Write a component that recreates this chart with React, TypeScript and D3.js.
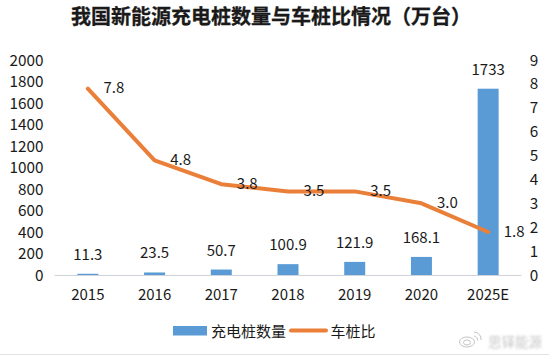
import React from "react";
import * as d3 from "d3";

const categories = ["2015", "2016", "2017", "2018", "2019", "2020", "2025E"];
const piles = [11.3, 23.5, 50.7, 100.9, 121.9, 168.1, 1733];
const ratio = [7.8, 4.8, 3.8, 3.5, 3.5, 3.0, 1.8];
const ratioLabels = ["7.8", "4.8", "3.8", "3.5", "3.5", "3.0", "1.8"];
const leftTicks = [0, 200, 400, 600, 800, 1000, 1200, 1400, 1600, 1800, 2000];
const rightTicks = [0, 1, 2, 3, 4, 5, 6, 7, 8, 9];

const FONT = "'Noto Sans CJK SC', 'Noto Sans', sans-serif";
const BLUE = "#5b9bd5";
const ORANGE = "#e97f38";

export default function App() {
  const x = d3.scaleBand<string>().domain(categories).range([54.5, 521.5]).padding(0);
  const yL = d3.scaleLinear().domain([0, 2000]).range([275, 60]);
  const yR = d3.scaleLinear().domain([0, 9]).range([275, 60]);
  const cx = (c: string) => (x(c) as number) + x.bandwidth() / 2;
  const line = d3
    .line<number>()
    .x((_, i) => cx(categories[i]))
    .y((d) => yR(d));
  const barW = 21;
  return (
    <svg
      width={549}
      height={356}
      style={{ position: "fixed", left: 0, top: 0, background: "#fff" }}
      fontFamily={FONT}
      fill="#1a1a1a"
    >
      <defs>
        <filter id="wm">
          <feGaussianBlur stdDeviation="1" />
        </filter>
      </defs>
      <text x={271} y={24} textAnchor="middle" fontSize={20} fontWeight={700} stroke="#1a1a1a" strokeWidth={0.3}>
        我国新能源充电桩数量与车桩比情况（万台）
      </text>
      {leftTicks.map((t) => (
        <text key={t} x={43.5} y={yL(t) + 5.5} textAnchor="end" fontSize={15.3}>
          {t}
        </text>
      ))}
      {rightTicks.map((t) => (
        <text key={t} x={534} y={yR(t) + 5.5} textAnchor="middle" fontSize={15.3}>
          {t}
        </text>
      ))}
      <line x1={54.5} x2={521.5} y1={275.5} y2={275.5} stroke="#d0d3da" strokeWidth={1} />
      {categories.map((c, i) => (
        <rect key={c} x={cx(c) - barW / 2} y={yL(piles[i])} width={barW} height={275 - yL(piles[i])} fill={BLUE} />
      ))}
      <path d={line(ratio) ?? ""} fill="none" stroke={ORANGE} strokeWidth={4} strokeLinejoin="round" strokeLinecap="round" />
      {categories.map((c) => (
        <text key={c} x={cx(c)} y={299.5} textAnchor="middle" fontSize={15}>
          {c}
        </text>
      ))}
      {categories.map((c, i) => (
        <text key={c} x={cx(c)} y={yL(piles[i]) - 14} textAnchor="middle" fontSize={15}>
          {piles[i]}
        </text>
      ))}
      {categories.map((c, i) => (
        <text key={c} x={cx(c) + 26} y={yR(ratio[i]) + 4.5} textAnchor="middle" fontSize={15}>
          {ratioLabels[i]}
        </text>
      ))}
      <rect x={173} y={326} width={34} height={9.5} fill={BLUE} />
      <text x={211} y={336.5} fontSize={15}>
        充电桩数量
      </text>
      <line x1={291} x2={326} y1={330.5} y2={330.5} stroke={ORANGE} strokeWidth={4} strokeLinecap="round" />
      <text x={330.5} y={336.5} fontSize={15}>
        车桩比
      </text>
      <g fill="none" stroke="#c4c4c4" strokeWidth={1}>
        <ellipse cx={467} cy={342} rx={7.5} ry={5} />
        <ellipse cx={467} cy={342.5} rx={3.5} ry={2.5} />
        <path d="M474 336 a4 4 0 0 1 3.5 4.5 M474 332 a7 7 0 0 1 7 8" />
      </g>
      <text x={488} y={347} fontSize={13.5} fill="#c8c8c8" filter="url(#wm)">
        思铎能源
      </text>
      <line x1={0} x2={549} y1={354.5} y2={354.5} stroke="#e2e2e2" strokeWidth={1} />
    </svg>
  );
}
